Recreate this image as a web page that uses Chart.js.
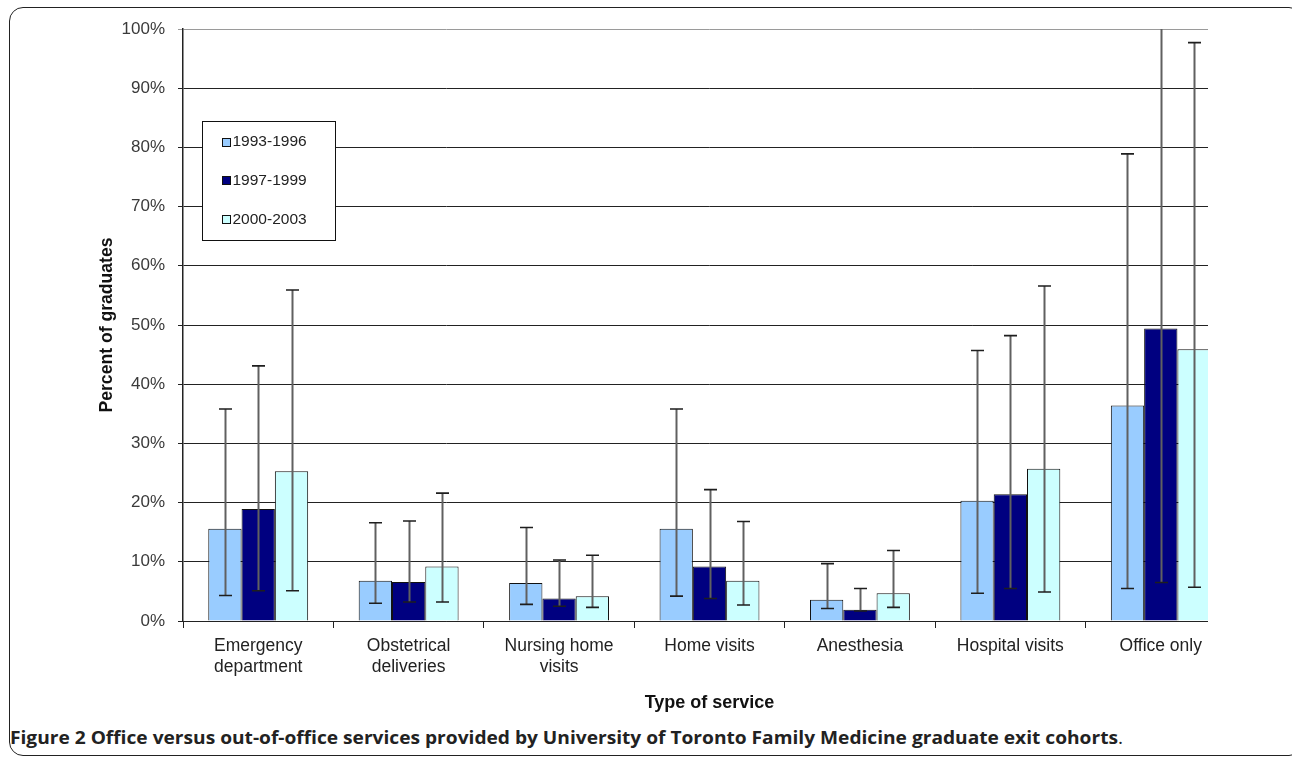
<!DOCTYPE html>
<html>
<head>
<meta charset="utf-8">
<script src="https://cdn.jsdelivr.net/npm/chart.js@4.4.1/dist/chart.umd.min.js"></script>
<style>
  html, body { margin: 0; padding: 0; background: #fff; width: 1292px; height: 758px; overflow: hidden; position: relative; }
  #frame { position: absolute; left: 9px; top: 7px; width: 1294px; height: 749px; border: 1.5px solid #222; border-radius: 14px; box-sizing: border-box; }
  #plotClip { position: absolute; left: 0; top: 0; width: 1208px; height: 720px; overflow: hidden; }
  #chart { position: absolute; left: 0; top: 0; }
  #caption { position: absolute; left: 10px; top: 725px; white-space: nowrap; font-family: "Open Sans", sans-serif; font-size: 18px; font-weight: 700; color: #222; transform-origin: 0 0; }
  #caption .dot { font-weight: 400; }
</style>
</head>
<body>
<div id="frame"></div>
<div id="plotClip"><canvas id="chart" width="1246" height="720"></canvas></div>
<div id="caption">Figure 2 Office versus out-of-office services provided by University of Toronto Family Medicine graduate exit cohorts<span class="dot">.</span></div>
<script>
// Service categories along the x axis
const categories = [
  ['Emergency', 'department'],
  ['Obstetrical', 'deliveries'],
  ['Nursing home', 'visits'],
  'Home visits',
  'Anesthesia',
  'Hospital visits',
  'Office only'
];

// Cohort labels
const cohortLabels = ['1993-1996', '1997-1999', '2000-2003'];

// Percent of graduates per cohort, with lower / upper interval ends
const cohort1993 = [15.6, 6.8, 6.4, 15.6, 3.6, 20.3, 36.4];
const cohort1993Low = [4.3, 3.0, 2.8, 4.2, 2.1, 4.7, 5.5];
const cohort1993High = [35.8, 16.6, 15.8, 35.8, 9.7, 45.7, 78.9];

const cohort1997 = [18.9, 6.6, 3.8, 9.2, 1.9, 21.4, 49.4];
const cohort1997Low = [5.1, 3.2, 2.5, 3.8, 1.7, 5.5, 6.5];
const cohort1997High = [43.1, 16.9, 10.3, 22.2, 5.5, 48.2, 104];

const cohort2000 = [25.3, 9.2, 4.2, 6.8, 4.7, 25.7, 45.9];
const cohort2000Low = [5.1, 3.2, 2.3, 2.7, 2.3, 4.9, 5.7];
const cohort2000High = [55.9, 21.6, 11.1, 16.8, 11.9, 56.6, 97.7];

// Y axis tick values
const yTicks = [0, 10, 20, 30, 40, 50, 60, 70, 80, 90, 100];

const cohortColors = ['#99CCFF', '#000080', '#CCFFFF'];
const FONT = '"Liberation Sans", Arial, sans-serif';

// Draws the interval whiskers for each bar
const errorBarPlugin = {
  id: 'errorBars',
  afterDatasetsDraw(chart) {
    const { ctx, chartArea, scales } = chart;
    ctx.save();
    ctx.beginPath();
    ctx.rect(chartArea.left, chartArea.top, chartArea.right - chartArea.left, chartArea.bottom - chartArea.top);
    ctx.clip();
    chart.data.datasets.forEach((ds, di) => {
      const meta = chart.getDatasetMeta(di);
      meta.data.forEach((bar, i) => {
        const x = Math.round(bar.x) + 0.5;
        const yLo = scales.y.getPixelForValue(ds.low[i]);
        const yHi = scales.y.getPixelForValue(ds.high[i]);
        ctx.strokeStyle = '#606060';
        ctx.lineWidth = 2;
        ctx.beginPath();
        ctx.moveTo(x, yLo);
        ctx.lineTo(x, yHi);
        ctx.stroke();
        ctx.strokeStyle = '#1e1e1e';
        ctx.lineWidth = 1.6;
        ctx.beginPath();
        ctx.moveTo(x - 6.5, yLo);
        ctx.lineTo(x + 6.5, yLo);
        ctx.moveTo(x - 6.5, yHi);
        ctx.lineTo(x + 6.5, yHi);
        ctx.stroke();
      });
    });
    ctx.restore();
  }
};

// Boxed legend inside the plot area
const boxLegendPlugin = {
  id: 'boxLegend',
  afterDraw(chart) {
    const { ctx } = chart;
    const bx = 202, by = 121, bw = 133, bh = 119;
    ctx.save();
    ctx.fillStyle = '#fff';
    ctx.fillRect(bx, by, bw, bh);
    ctx.strokeStyle = '#111';
    ctx.lineWidth = 1;
    ctx.strokeRect(bx + 0.5, by + 0.5, bw, bh);
    ctx.font = '15.5px ' + FONT;
    ctx.textBaseline = 'middle';
    ctx.textAlign = 'left';
    chart.data.datasets.forEach((ds, i) => {
      const cy = 141.5 + i * 38.7;
      ctx.fillStyle = ds.backgroundColor;
      ctx.fillRect(222.5, Math.round(cy - 4) + 0.5, 8, 8);
      ctx.strokeStyle = '#111';
      ctx.strokeRect(222.5, Math.round(cy - 4) + 0.5, 8, 8);
      ctx.fillStyle = '#222';
      ctx.fillText(ds.label, 232.5, cy + 0.5);
    });
    ctx.restore();
  }
};

const makeSet = (label, values, low, high, color) => ({
  label, data: values, low, high,
  backgroundColor: color,
  borderColor: '#111',
  borderWidth: 1,
  categoryPercentage: 0.664,
  barPercentage: 1
});

new Chart(document.getElementById('chart'), {
  type: 'bar',
  data: {
    labels: categories,
    datasets: [
      makeSet(cohortLabels[0], cohort1993, cohort1993Low, cohort1993High, cohortColors[0]),
      makeSet(cohortLabels[1], cohort1997, cohort1997Low, cohort1997High, cohortColors[1]),
      makeSet(cohortLabels[2], cohort2000, cohort2000Low, cohort2000High, cohortColors[2])
    ]
  },
  options: {
    responsive: false,
    devicePixelRatio: 1,
    animation: false,
    layout: { padding: { top: 29, right: 10, bottom: 0, left: 0 } },
    plugins: { legend: { display: false }, tooltip: { enabled: false } },
    scales: {
      x: {
        afterFit: s => { s.height = 99; },
        grid: { display: true, drawOnChartArea: false, drawTicks: true, tickLength: 7, color: '#222', offset: true },
        border: { display: true, color: '#222', width: 1 },
        ticks: { color: '#222', font: { family: FONT, size: 17.5, lineHeight: 1.2 }, padding: 8, maxRotation: 0, autoSkip: false },
        title: { display: true, text: 'Type of service', color: '#111', font: { family: FONT, size: 18, weight: 'bold' }, padding: { top: 0, bottom: 6 } }
      },
      y: {
        min: 0, max: 100,
        afterFit: s => { s.width = 183; },
        afterBuildTicks: s => { s.ticks = yTicks.map(v => ({ value: v })); },
        grid: {
          color: ctx => (ctx.tick && ctx.tick.value === 100) ? '#9a9a9a' : '#222',
          lineWidth: 1, tickLength: 5, drawTicks: true
        },
        border: { display: true, color: '#222', width: 1.5 },
        ticks: { color: '#3a3a3a', font: { family: FONT, size: 17 }, padding: 13, callback: v => v + '%' },
        title: { display: true, text: 'Percent of graduates', color: '#111', font: { family: FONT, size: 17.6, weight: 'bold' }, padding: { top: 97, bottom: 0 } }
      }
    }
  },
  plugins: [errorBarPlugin, boxLegendPlugin]
});

// Fit the caption line to its column width
const cap = document.getElementById('caption');
const w = cap.getBoundingClientRect().width;
cap.style.transform = 'scaleX(' + (1113 / w) + ')';
</script>
</body>
</html>
